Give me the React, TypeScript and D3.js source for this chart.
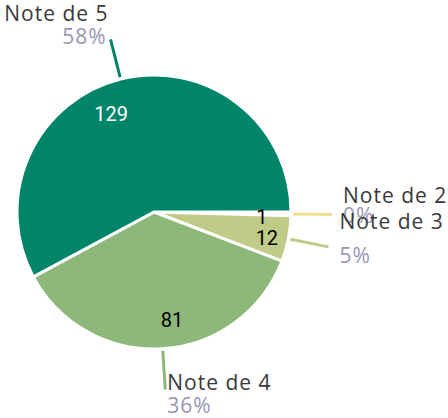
import React from "react";
import * as d3 from "d3";

const categories = ["Note de 2", "Note de 3", "Note de 4", "Note de 5"];
const counts = [1, 12, 81, 129];
const percentLabels = ["0%", "5%", "36%", "58%"];
const colors = ["#f3df8e", "#bfcb86", "#8db87a", "#00846a"];

// small hand nudges for text placement, like the original layout
const valueNudge = [[-2, 3], [5, 4], [11, -2], [-16, 9]];
const nameNudge = [[11, -12], [11, -18], [2, 0], [-2, -18]];
const pctNudge = [[11, 8], [11, 16], [2, 23], [-4, 5]];

const W = 448, H = 418;
const cx = 154, cy = 212, R = 137;

export default function App() {
  const data = categories.map((c, i) => ({ name: c, value: counts[i], pct: percentLabels[i], i }));
  const pie = d3.pie<any>().value((d: any) => d.value).sort(null)
    .startAngle(Math.PI / 2).endAngle(Math.PI / 2 + 2 * Math.PI);
  const arcs = pie(data);
  const arc = d3.arc<any>().innerRadius(0).outerRadius(R);
  const labelArc = d3.arc<any>().innerRadius(110).outerRadius(110);
  const lineIn = d3.arc<any>().innerRadius(139).outerRadius(139);
  const lineOut = d3.arc<any>().innerRadius(178).outerRadius(178);

  return (
    <svg width={W} height={H} style={{ position: "absolute", left: 0, top: 0 }}>
      <rect width={W} height={H} fill="#fff" />
      <g transform={`translate(${cx},${cy})`}>
        {arcs.map((a: any) => (
          <path key={a.data.name} d={arc(a) as string} fill={colors[a.data.i]} stroke="#fff" strokeWidth={3} />
        ))}
        {arcs.map((a: any) => {
          const p1 = lineIn.centroid(a);
          const p2 = lineOut.centroid(a);
          return <line key={"l" + a.data.name} x1={p1[0]} y1={p1[1]} x2={p2[0]} y2={p2[1]}
            stroke={colors[a.data.i]} strokeWidth={3} />;
        })}
        {arcs.map((a: any) => {
          const c = labelArc.centroid(a);
          const n = valueNudge[a.data.i];
          return <text key={"v" + a.data.name} x={c[0] + n[0]} y={c[1] + n[1]} dy="0.35em"
            textAnchor="middle" fontFamily="Roboto" fontSize={20}
            fill={a.data.i === 3 ? "#fff" : "#000"}>{a.data.value}</text>;
        })}
        {arcs.map((a: any) => {
          const p = lineOut.centroid(a);
          const mid = (a.startAngle + a.endAngle) / 2;
          const left = Math.sin(mid) < -0.1;
          const nn = nameNudge[a.data.i];
          const pn = pctNudge[a.data.i];
          return (
            <g key={"t" + a.data.name} fontFamily="'Open Sans'" fontSize={21} letterSpacing={1}
              textAnchor={left ? "end" : "start"}>
              <text x={p[0] + nn[0]} y={p[1] + nn[1]} fill="#3a3a3a">{a.data.name}</text>
              <text x={p[0] + pn[0]} y={p[1] + pn[1]} fill="#9696b4">{a.data.pct}</text>
            </g>
          );
        })}
      </g>
    </svg>
  );
}
